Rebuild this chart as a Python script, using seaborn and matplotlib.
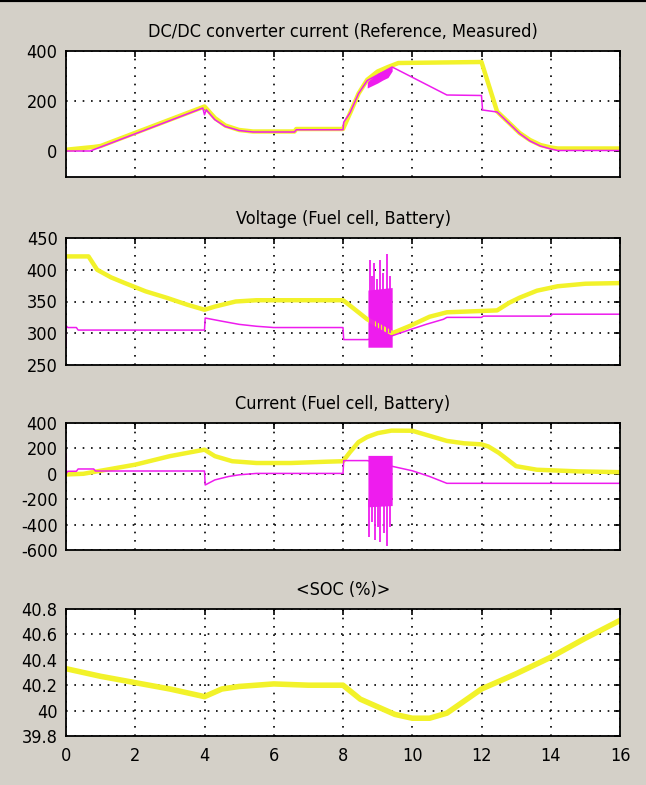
import numpy as np
import matplotlib.pyplot as plt
import seaborn as sns
from matplotlib.lines import Line2D

# ---- data ----
# DC/DC converter current: reference (yellow) and measured (magenta)
ref_t = [0, 0.5, 0.8, 1.0, 4.0, 4.3, 4.6, 5.0, 5.4, 6.6, 6.65, 8.0, 8.2, 8.45, 8.7, 9.0, 9.3, 9.6, 12.0, 12.45, 12.8, 13.1, 13.4, 13.7, 14.0, 14.2, 16.0]
ref_i = [5, 12, 16, 20, 178, 132, 102, 84, 78, 78, 88, 88, 150, 230, 285, 318, 336, 352, 356, 158, 112, 72, 44, 24, 14, 10, 10]
meas_t = [0, 0.7, 3.95, 4.0, 4.05, 4.3, 4.6, 5.0, 5.4, 6.6, 6.65, 8.0, 8.02, 8.2, 8.45, 8.7, 9.42, 11.0, 12.0, 12.03, 12.45, 12.8, 13.1, 13.4, 13.7, 14.0, 14.2, 16.0]
meas_i = [0, 0, 172, 145, 165, 125, 98, 82, 76, 76, 85, 85, 115, 152, 230, 282, 336, 224, 222, 164, 156, 110, 70, 40, 20, 8, 2, 2]
meas_band_t = [8.7, 8.85, 9.0, 9.15, 9.3, 9.42]
meas_band_lo = [252, 262, 272, 284, 294, 320]
meas_band_hi = [290, 305, 318, 328, 334, 336]

# Voltage: fuel cell (yellow) and battery (magenta)
fc_t = [0, 0.65, 0.9, 1.3, 1.7, 2.3, 2.9, 3.5, 4.0, 4.3, 4.9, 5.5, 8.0, 8.1, 8.4, 8.7, 9.42, 9.95, 10.5, 11.0, 12.45, 12.8, 13.1, 13.6, 14.2, 15.0, 16.0]
fc_v = [421, 421, 400, 388, 379, 366, 356, 345, 337, 342, 350, 352, 352, 348, 335, 322, 300, 312, 326, 333, 336, 348, 356, 367, 374, 378, 379]
bat_t = [0, 0, 0.05, 0.3, 0.35, 4.0, 4.02, 4.5, 5.0, 5.5, 6.0, 8.0, 8.02, 8.7, 9.42, 9.9, 10.4, 10.9, 11.0, 12.0, 12.05, 14.0, 14.05, 16.0]
bat_v = [280, 312, 309, 309, 305, 305, 324, 319, 314, 311, 309, 309, 290, 290, 296, 305, 314, 322, 325, 325, 327, 327, 330, 330]
bat_band_t = [8.72, 9.42]
bat_band_lo = [278, 278]
bat_band_hi = [368, 372]
bat_spike_t = [8.78, 8.84, 8.9, 8.98, 9.07, 9.15, 9.28, 9.35]
bat_spike_v = [415, 390, 410, 385, 415, 395, 425, 390]

# Current: fuel cell (yellow) and battery (magenta)
fci_t = [0, 0.5, 1.0, 2.0, 3.0, 4.0, 4.3, 4.8, 5.5, 6.5, 7.5, 8.0, 8.2, 8.45, 8.7, 9.0, 9.4, 10.0, 10.5, 11.0, 11.5, 12.0, 12.2, 12.5, 13.0, 13.6, 14.8, 16.0]
fci_i = [-5, 0, 24, 72, 139, 190, 139, 99, 85, 85, 95, 99, 170, 250, 290, 320, 340, 339, 299, 259, 240, 232, 215, 165, 60, 32, 19, 13]
bi_t = [0, 0, 0.05, 0.3, 0.35, 0.8, 0.85, 4.0, 4.02, 4.3, 4.7, 5.0, 5.5, 8.0, 8.02, 8.7, 9.42, 10.0, 10.5, 11.0, 16.0]
bi_i = [160, 0, 20, 20, 38, 38, 22, 22, -88, -48, -21, -8, 3, 3, 104, 104, 59, 24, -21, -75, -75]
bi_band_t = [8.72, 9.42]
bi_band_lo = [-260, -250]
bi_band_hi = [145, 145]
bi_spike_t = [8.76, 8.84, 8.92, 9.0, 9.08, 9.17, 9.26, 9.35]
bi_spike_i = [-500, -380, -520, -420, -540, -470, -570, -420]

# State of charge
soc_t = [0, 1, 2, 3, 4, 4.5, 5.0, 5.5, 6.0, 7.0, 8.0, 8.5, 9.0, 9.5, 10.0, 10.5, 11.0, 12.0, 13.0, 14.0, 15.0, 16.0]
soc = [40.33, 40.27, 40.22, 40.17, 40.11, 40.17, 40.19, 40.2, 40.21, 40.2, 40.2, 40.09, 40.03, 39.97, 39.94, 39.94, 39.98, 40.17, 40.29, 40.42, 40.57, 40.71]

titles = ['DC/DC converter current (Reference, Measured)', 'Voltage (Fuel cell, Battery)',
          'Current (Fuel cell, Battery)', '<SOC (%)>']
yticks = [[0, 200, 400], [250, 300, 350, 400, 450],
          [-600, -400, -200, 0, 200, 400], [39.8, 40, 40.2, 40.4, 40.6, 40.8]]
ytick_labels = [['0', '200', '400'], ['250', '300', '350', '400', '450'],
                ['-600', '-400', '-200', '0', '200', '400'],
                ['39.8', '40', '40.2', '40.4', '40.6', '40.8']]
ylims = [(-104, 400), (250, 450), (-600, 400), (39.8, 40.8)]
xticks = [0, 2, 4, 6, 8, 10, 12, 14, 16]

BG = '#d4d0c8'
YEL = '#f2f22a'
MAG = '#ee1cee'

sns.set_style('white')
plt.rcParams['font.family'] = ['DejaVu Sans']
plt.rcParams['font.stretch'] = 'condensed'

fig = plt.figure(figsize=(6.46, 7.85), dpi=100)
fig.patch.set_facecolor(BG)

W, H = 646, 785
boxes = [(51, 177), (238, 365), (423, 550), (609, 736)]
axes = []
for top, bot in boxes:
    axes.append(fig.add_axes([66 / W, 1 - bot / H, 554 / W, (bot - top) / H]))


def line(ax, x, y, color, lw):
    sns.lineplot(x=x, y=y, ax=ax, color=color, linewidth=lw, estimator=None, sort=False)


ax1, ax2, ax3, ax4 = axes

line(ax1, ref_t, ref_i, YEL, 3.2)
ax1.fill_between(meas_band_t, meas_band_lo, meas_band_hi, color=MAG, linewidth=0)
line(ax1, meas_t, meas_i, MAG, 1.1)

line(ax2, fc_t, fc_v, YEL, 3.2)
ax2.fill_between(bat_band_t, bat_band_lo, bat_band_hi, color=MAG, linewidth=0)
ax2.vlines(bat_spike_t, 300, bat_spike_v, color=MAG, linewidth=1.3)
line(ax2, bat_t, bat_v, MAG, 1.1)

line(ax3, fci_t, fci_i, YEL, 3.2)
ax3.fill_between(bi_band_t, bi_band_lo, bi_band_hi, color=MAG, linewidth=0)
ax3.vlines(bi_spike_t, -200, bi_spike_i, color=MAG, linewidth=1.3)
line(ax3, bi_t, bi_i, MAG, 1.1)

line(ax4, soc_t, soc, YEL, 4.0)

for i, ax in enumerate(axes):
    ax.set_facecolor('white')
    ax.set_xlim(0, 16)
    ax.set_ylim(*ylims[i])
    ax.set_xticks(xticks)
    ax.set_yticks(yticks[i])
    ax.set_yticklabels(ytick_labels[i])
    ax.grid(True, color='black', linestyle=(0, (1, 4)), linewidth=1.2)
    ax.tick_params(direction='in', length=4, width=1.2, top=True, right=True,
                   labelsize=13, colors='black', pad=6)
    for sp in ax.spines.values():
        sp.set_visible(True)
        sp.set_color('black')
        sp.set_linewidth(1.3)
    ax.set_xlabel('')
    ax.set_ylabel('')
    ax.set_title(titles[i], fontsize=13, pad=10, color='black')
    if i < 3:
        ax.tick_params(labelbottom=False)
    else:
        ax.tick_params(axis='x', pad=8)

fig.add_artist(Line2D([0, 1], [1, 1], transform=fig.transFigure, color='black', linewidth=3))

fig.savefig('out.png', dpi=100, facecolor=BG)
